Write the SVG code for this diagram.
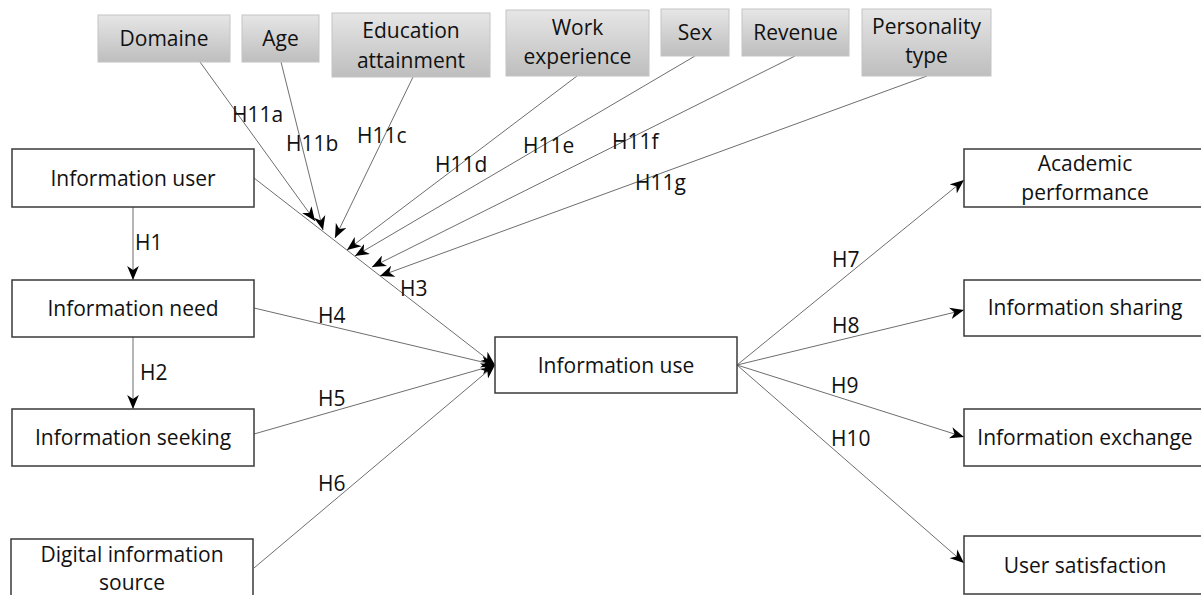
<svg xmlns="http://www.w3.org/2000/svg" width="1201" height="595" viewBox="0 0 1201 595">
<style>
text{font-family:"Open Sans","Liberation Sans",sans-serif;font-size:21px;fill:#111}
.c{text-anchor:middle}
.box{fill:#fff;stroke:#3a3a3a;stroke-width:1.5}
.gbox{fill:url(#g);stroke:#c4c4c4;stroke-width:1}
.ln{stroke:#6e6e6e;stroke-width:1;fill:none;marker-end:url(#ah)}
</style>
<defs>
<linearGradient id="g" x1="0" y1="0" x2="0" y2="1">
<stop offset="0" stop-color="#e6e6e6"/>
<stop offset="1" stop-color="#bebebe"/>
</linearGradient>
<marker id="ah" viewBox="0 0 12 10" refX="12" refY="5" markerWidth="14" markerHeight="12" markerUnits="userSpaceOnUse" orient="auto">
<path d="M0,0 L12,5 L0,10 L3.5,5 z" fill="#000"/>
</marker>
</defs>
<rect width="1201" height="595" fill="#fff"/>
<g id="connectors">
<line class="ln" x1="133" y1="207" x2="133" y2="280"/>
<line class="ln" x1="133" y1="337" x2="133" y2="409"/>
<line class="ln" x1="254" y1="178" x2="495" y2="365"/>
<line class="ln" x1="254" y1="308" x2="495" y2="365"/>
<line class="ln" x1="254" y1="434" x2="495" y2="365"/>
<line class="ln" x1="254" y1="568" x2="495" y2="365"/>
<line class="ln" x1="737" y1="365" x2="964" y2="180"/>
<line class="ln" x1="737" y1="365" x2="964" y2="310"/>
<line class="ln" x1="737" y1="365" x2="964" y2="437"/>
<line class="ln" x1="737" y1="365" x2="964" y2="563"/>
<line class="ln" x1="200" y1="62" x2="315" y2="221"/>
<line class="ln" x1="281" y1="62" x2="323" y2="230"/>
<line class="ln" x1="413" y1="77" x2="335" y2="238"/>
<line class="ln" x1="577" y1="76" x2="347" y2="250"/>
<line class="ln" x1="695" y1="56" x2="355" y2="256"/>
<line class="ln" x1="795" y1="56" x2="372" y2="267"/>
<line class="ln" x1="927" y1="76" x2="380" y2="276"/>
<text x="135" y="250">H1</text>
<text x="140" y="380">H2</text>
<text x="400" y="296">H3</text>
<text x="318" y="323">H4</text>
<text x="318" y="406">H5</text>
<text x="318" y="491">H6</text>
<text x="832" y="267">H7</text>
<text x="832" y="333">H8</text>
<text x="831" y="393">H9</text>
<text x="831" y="446">H10</text>
<text x="232" y="122">H11a</text>
<text x="286" y="151">H11b</text>
<text x="357" y="143">H11c</text>
<text x="435" y="172">H11d</text>
<text x="523" y="153">H11e</text>
<text x="612" y="149">H11f</text>
<text x="635" y="190">H11g</text>
</g>
<g id="domaine"><rect class="gbox" x="98" y="15" width="132" height="47"/><text class="c" x="164" y="46">Domaine</text></g>
<g id="age"><rect class="gbox" x="242" y="15" width="77" height="47"/><text class="c" x="280.5" y="46">Age</text></g>
<g id="education"><rect class="gbox" x="332" y="13" width="158" height="64"/><text class="c" x="411" y="38">Education</text><text class="c" x="411" y="68">attainment</text></g>
<g id="work"><rect class="gbox" x="506" y="10" width="143" height="66"/><text class="c" x="577.5" y="35">Work</text><text class="c" x="577.5" y="64">experience</text></g>
<g id="sex"><rect class="gbox" x="661" y="9" width="68" height="47"/><text class="c" x="695" y="40">Sex</text></g>
<g id="revenue"><rect class="gbox" x="742" y="9" width="107" height="47"/><text class="c" x="795.5" y="40">Revenue</text></g>
<g id="personality"><rect class="gbox" x="862" y="9" width="129" height="67"/><text class="c" x="926.5" y="34">Personality</text><text class="c" x="926.5" y="63">type</text></g>
<g id="info-user"><rect class="box" x="12" y="149" width="242" height="58"/><text class="c" x="133" y="186">Information user</text></g>
<g id="info-need"><rect class="box" x="12" y="280" width="242" height="57"/><text class="c" x="133" y="316">Information need</text></g>
<g id="info-seeking"><rect class="box" x="12" y="409" width="242" height="57"/><text class="c" x="133" y="445">Information seeking</text></g>
<g id="digital-source"><rect class="box" x="11" y="539" width="242" height="70"/><text class="c" x="132" y="562">Digital information</text><text class="c" x="132" y="590">source</text></g>
<g id="info-use"><rect class="box" x="495" y="337" width="242" height="56"/><text class="c" x="616" y="373">Information use</text></g>
<g id="academic"><rect class="box" x="964" y="149" width="242" height="58"/><text class="c" x="1085" y="171">Academic</text><text class="c" x="1085" y="200">performance</text></g>
<g id="sharing"><rect class="box" x="964" y="280" width="242" height="56"/><text class="c" x="1085" y="315">Information sharing</text></g>
<g id="exchange"><rect class="box" x="964" y="409" width="242" height="57"/><text class="c" x="1085" y="445">Information exchange</text></g>
<g id="satisfaction"><rect class="box" x="964" y="536" width="242" height="58"/><text class="c" x="1085" y="573">User satisfaction</text></g>
</svg>
